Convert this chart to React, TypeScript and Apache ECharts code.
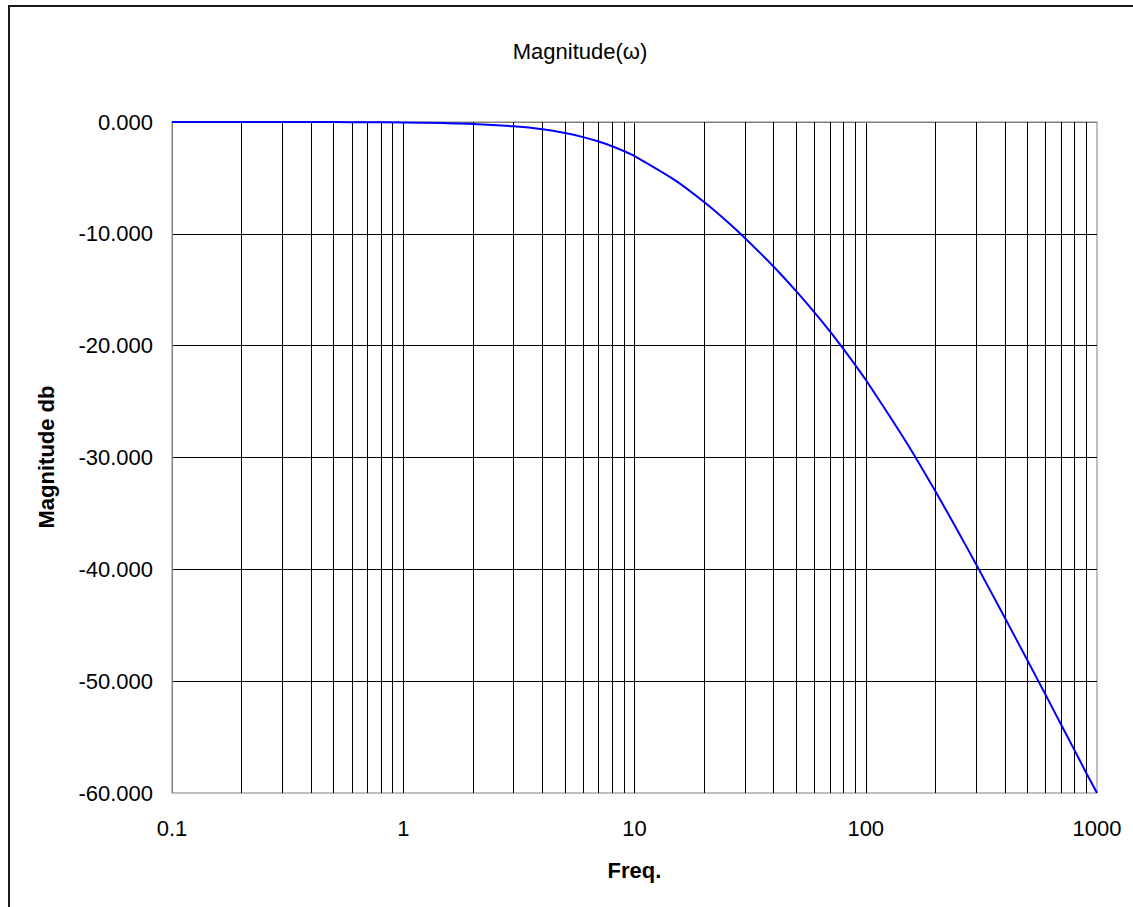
import React, { useEffect, useRef } from "react";
import * as echarts from "echarts";

const freq = [
  0.1, 0.2, 0.3, 0.5, 0.7, 1, 1.5, 2, 3, 4, 5, 6, 7, 8, 9, 10, 15, 20, 25, 30,
  40, 50, 60, 70, 80, 90, 100, 150, 200, 250, 300, 400, 500, 600, 700, 800, 900,
  1000,
];
const magDb = [
  0, 0, 0, -0.01, -0.02, -0.04, -0.1, -0.17, -0.39, -0.65, -0.98, -1.35, -1.75,
  -2.17, -2.61, -3.05, -5.22, -7.16, -8.86, -10.37, -12.94, -15.12, -17.02,
  -18.72, -20.28, -21.72, -23.05, -28.66, -33.02, -36.57, -39.55, -44.35,
  -48.13, -51.24, -53.89, -56.19, -58.23, -60.0,
];
const minorGrid = [
  0.2, 0.3, 0.4, 0.5, 0.6, 0.7, 0.8, 0.9, 2, 3, 4, 5, 6, 7, 8, 9, 20, 30, 40,
  50, 60, 70, 80, 90, 200, 300, 400, 500, 600, 700, 800, 900,
];
const xTickLabels: Record<string, string> = {
  "0.1": "0.1",
  "1": "1",
  "10": "10",
  "100": "100",
  "1000": "1000",
};
const titleText = "Magnitude(ω)";
const xName = "Freq.";
const yName = "Magnitude db";

const FONT = "'Liberation Sans', Arial, sans-serif";

export default function App() {
  const ref = useRef<HTMLDivElement>(null);
  useEffect(() => {
    if (!ref.current) return;
    const chart = echarts.init(ref.current, null, { renderer: "svg" });
    chart.setOption({
      animation: false,
      backgroundColor: "#ffffff",
      textStyle: { fontFamily: FONT },
      title: {
        text: titleText,
        left: 575,
        top: 35,
        textAlign: "center",
        textStyle: {
          fontSize: 22,
          fontWeight: "normal",
          fontFamily: FONT,
          color: "#000",
        },
      },
      graphic: [
        {
          type: "rect",
          silent: true,
          z: -10,
          shape: { x: 9, y: 6, width: 1300, height: 1000 },
          style: { fill: "none", stroke: "#1a1a1a", lineWidth: 2 },
        },
        {
          type: "text",
          x: 46,
          y: 457,
          rotation: Math.PI / 2,
          style: {
            text: yName,
            fontSize: 22,
            fontWeight: "bold",
            fontFamily: FONT,
            fill: "#000",
            align: "center",
            verticalAlign: "middle",
          },
        },
      ],
      grid: {
        left: 172,
        right: 36,
        top: 122,
        bottom: 114,
        show: true,
        borderColor: "#808080",
        borderWidth: 1,
        backgroundColor: "transparent",
      },
      xAxis: {
        type: "log",
        logBase: 10,
        min: 0.1,
        max: 1000,
        name: xName,
        nameLocation: "middle",
        nameGap: 66,
        nameTextStyle: {
          fontSize: 22,
          fontWeight: "bold",
          fontFamily: FONT,
          color: "#000",
        },
        axisLine: { show: true, lineStyle: { color: "#808080", width: 1 } },
        axisTick: { show: false },
        axisLabel: {
          fontSize: 22,
          fontFamily: FONT,
          color: "#000",
          margin: 24,
          formatter: (v: number) => {
            const k = String(Math.round(v * 10) / 10);
            return xTickLabels[k] ?? k;
          },
        },
        splitLine: {
          show: true,
          showMinLine: false,
          showMaxLine: false,
          lineStyle: { color: "#000", width: 1 },
        },
      },
      yAxis: {
        type: "value",
        min: -60,
        max: 0,
        interval: 10,
        axisLine: { show: true, lineStyle: { color: "#808080", width: 1 } },
        axisTick: { show: false },
        axisLabel: {
          fontSize: 22,
          fontFamily: FONT,
          color: "#000",
          margin: 19,
          formatter: (v: number) => v.toFixed(3),
        },
        splitLine: {
          show: true,
          showMinLine: false,
          lineStyle: { color: "#000", width: 1 },
        },
      },
      series: [
        {
          type: "line",
          data: freq.map((f, i) => [f, magDb[i]]),
          showSymbol: false,
          smooth: 0.3,
          lineStyle: { color: "#0000ff", width: 2 },
          z: 5,
          markLine: {
            silent: true,
            symbol: "none",
            label: { show: false },
            lineStyle: { color: "#000", width: 1, type: "solid" },
            data: minorGrid.map((v) => ({ xAxis: v })),
            z: 1,
          },
        },
      ],
    });
    return () => chart.dispose();
  }, []);
  return (
    <div
      ref={ref}
      style={{ position: "fixed", left: 0, top: 0, width: 1133, height: 907 }}
    />
  );
}
